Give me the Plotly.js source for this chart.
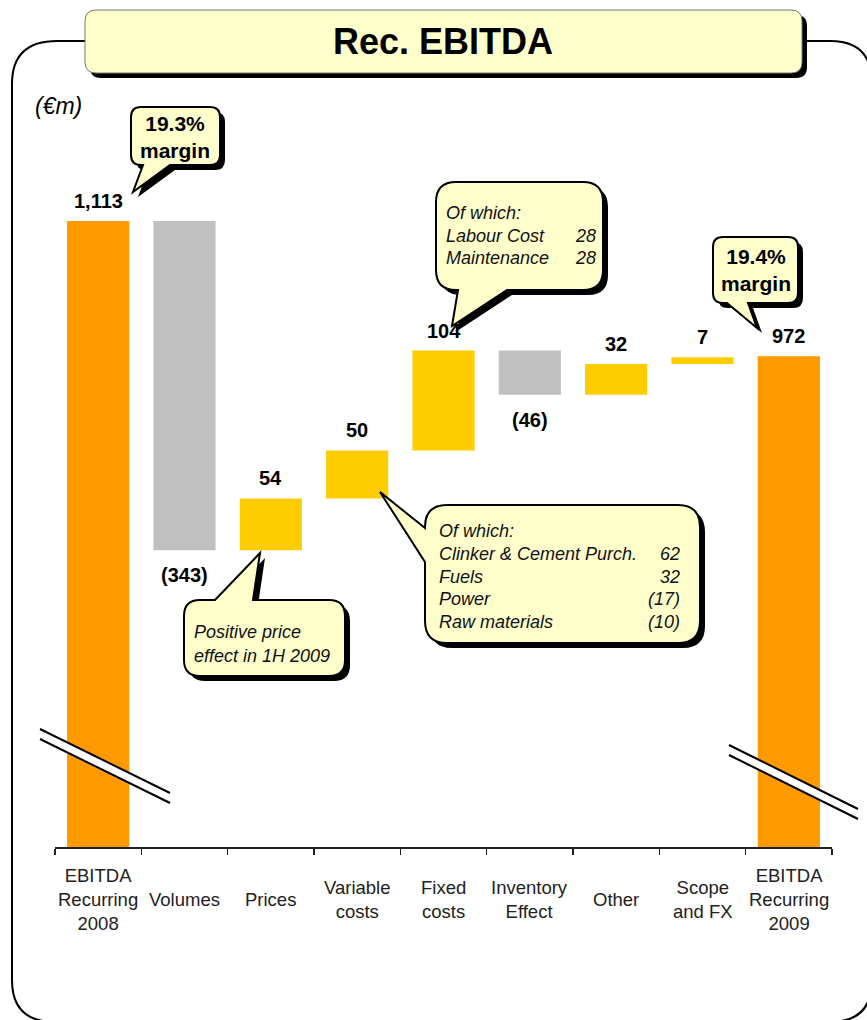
<!DOCTYPE html>
<html><head><meta charset="utf-8">
<script src="https://cdn.plot.ly/plotly-3.0.1.min.js"></script>
<style>html,body{margin:0;padding:0;background:#fff}</style>
</head><body><div id="chart" style="width:867px;height:1020px"></div>
<script>
// ---- data ----
var categories = ["EBITDA<br>Recurring<br>2008","Volumes","Prices","Variable<br>costs","Fixed<br>costs","Inventory<br>Effect","Other","Scope<br>and FX","EBITDA<br>Recurring<br>2009"];
var measures = ["absolute","relative","relative","relative","relative","relative","relative","relative","absolute"];
var values = [1113, -343, 54, 50, 104, -46, 32, 7, 972];
var unitLabel = "(€m)";
var chartTitle = "Rec. EBITDA";
var marginStart = ["19.3%","margin"];
var marginEnd = ["19.4%","margin"];
var fixedDetail = [["Of which:",""],["Labour Cost","28"],["Maintenance","28"]];
var variableDetail = [["Of which:",""],["Clinker & Cement Purch.","62"],["Fuels","32"],["Power","(17)"],["Raw materials","(10)"]];
var priceNote = ["Positive price","effect in 1H 2009"];

// ---- geometry ----
var W=867,H=1020, ML=55, MR=35, MT=100, MB=173;
var PW=W-ML-MR, PH=H-MT-MB;
var Y0=461, Y1=1239;
function X(p){return (p-ML)/PW;}
function Y(p){return (H-MB-p)/PH;}
function pt(x,y){return X(x).toFixed(5)+","+Y(y).toFixed(5);}

function bubblePath(x0,y0,x1,y1,r,tail,dx,dy){
  dx=dx||0; dy=dy||0;
  x0+=dx;x1+=dx;y0+=dy;y1+=dy;
  var t=tail?{edge:tail.edge,a:tail.a+((tail.edge==='left')?dy:dx),b:tail.b+((tail.edge==='left')?dy:dx),tx:tail.tx+dx,ty:tail.ty+dy}:null;
  var s="M"+pt(x0+r,y0);
  if(t&&t.edge==='top'){s+=" L"+pt(t.a,y0)+" L"+pt(t.tx,t.ty)+" L"+pt(t.b,y0);}
  s+=" L"+pt(x1-r,y0)+" Q"+pt(x1,y0)+" "+pt(x1,y0+r);
  s+=" L"+pt(x1,y1-r)+" Q"+pt(x1,y1)+" "+pt(x1-r,y1);
  if(t&&t.edge==='bottom'){s+=" L"+pt(t.b,y1)+" L"+pt(t.tx,t.ty)+" L"+pt(t.a,y1);}
  s+=" L"+pt(x0+r,y1)+" Q"+pt(x0,y1)+" "+pt(x0,y1-r);
  if(t&&t.edge==='left'){s+=" L"+pt(x0,t.b)+" L"+pt(t.tx,t.ty)+" L"+pt(x0,t.a);}
  s+=" L"+pt(x0,y0+r)+" Q"+pt(x0,y0)+" "+pt(x0+r,y0)+" Z";
  return s;
}
var shapes=[];
function bubble(x0,y0,x1,y1,r,tail,lineColor,lw){
  shapes.push({type:'path',xref:'paper',yref:'paper',layer:'above',path:bubblePath(x0,y0,x1,y1,r,tail,5,5),fillcolor:'#000',line:{width:0}});
  shapes.push({type:'path',xref:'paper',yref:'paper',layer:'above',path:bubblePath(x0,y0,x1,y1,r,tail,0,0),fillcolor:'#FFFFCC',line:{color:lineColor||'#000',width:lw||2}});
}
// outer frame
shapes.push({type:'path',xref:'paper',yref:'paper',layer:'above',
  path:"M"+pt(57,41)+" L"+pt(830,41)+" Q"+pt(872,41)+" "+pt(872,83)+" L"+pt(872,980)+" Q"+pt(872,1022)+" "+pt(830,1022)+" L"+pt(55,1022)+" Q"+pt(12,1022)+" "+pt(12,980)+" L"+pt(12,84)+" Q"+pt(12,41)+" "+pt(57,41)+" Z",
  line:{color:'#000',width:2},fillcolor:'rgba(0,0,0,0)'});
// title box
bubble(85,10,802,73,11,null,'#777',1);
// callouts
bubble(131,107,220,165,10,{edge:'bottom',a:143,b:170,tx:133,ty:192});
bubble(713,237,798,303,10,{edge:'bottom',a:727,b:748,tx:757,ty:328});
bubble(436,182,603,290,20,{edge:'bottom',a:458,b:507,tx:452,ty:326});
bubble(425,505,700,643,22,{edge:'left',a:528,b:562,tx:380,ty:492});
bubble(184,600,345,676,16,{edge:'top',a:215,b:253,tx:260,ty:553});
// axis breaks
function brk(xa,ya,xb,yb,gap){
  shapes.push({type:'path',xref:'paper',yref:'paper',layer:'above',path:"M"+pt(xa,ya)+" L"+pt(xb,yb)+" L"+pt(xb,yb+gap)+" L"+pt(xa,ya+gap)+" Z",fillcolor:'#fff',line:{width:0}});
  shapes.push({type:'line',xref:'paper',yref:'paper',layer:'above',x0:X(xa),y0:Y(ya),x1:X(xb),y1:Y(yb),line:{color:'#000',width:2}});
  shapes.push({type:'line',xref:'paper',yref:'paper',layer:'above',x0:X(xa),y0:Y(ya+gap),x1:X(xb),y1:Y(yb+gap),line:{color:'#000',width:2}});
}
brk(40,729,170,793,10);
brk(729,745,858,809,10);

// ---- annotations ----
var F="Arial, 'Liberation Sans', sans-serif";
var ann=[];
function txt(x,y,t,opt){
  opt=opt||{};
  ann.push({xref:'paper',yref:'paper',x:X(x),y:Y(y),text:t,showarrow:false,xanchor:opt.xa||'center',yanchor:opt.ya||'middle',
    font:{family:F,size:opt.size||17,color:opt.color||'#000'}});
}
txt(443,42,"<b>"+chartTitle+"</b>",{size:36});
txt(33,106,"<i>"+unitLabel+"</i>",{xa:'left',size:23});
txt(175,137,"<b>"+marginStart.join("<br>")+"</b>",{size:21});
txt(756,270,"<b>"+marginEnd.join("<br>")+"</b>",{size:21});
function detail(rows,xl,xr,y0,dy,sz){
  rows.forEach(function(r,i){
    txt(xl,y0+i*dy,"<i>"+r[0]+"</i>",{xa:'left',size:sz,color:'#111'});
    if(r[1]) txt(xr,y0+i*dy,"<i>"+r[1]+"</i>",{xa:'right',size:sz,color:'#111'});
  });
}
detail(fixedDetail,444,598,213,22.5,18);
detail(variableDetail,437,682,531,22.8,18);
detail(priceNote.map(function(s){return [s,""];}),192,0,632,24,18);

// value labels & category labels
var cum=0;
function fmt(v){var s=Math.abs(v).toLocaleString('en-US');return v<0?"("+s+")":s;}
values.forEach(function(v,i){
  var top,bottom;
  if(measures[i]==='absolute'){cum=v;top=v;bottom=0;}
  else{var prev=cum;cum+=v;top=Math.max(prev,cum);bottom=Math.min(prev,cum);}
  if(v>=0){
    ann.push({xref:'x',yref:'y',x:categories[i],y:top,yshift:7,yanchor:'bottom',xanchor:'center',showarrow:false,text:"<b>"+fmt(v)+"</b>",font:{family:F,size:20,color:'#000'}});
  } else {
    ann.push({xref:'x',yref:'y',x:categories[i],y:bottom,yshift:-12,yanchor:'top',xanchor:'center',showarrow:false,text:"<b>"+fmt(v)+"</b>",font:{family:F,size:20,color:'#000'}});
  }
  ann.push({xref:'x',yref:'paper',x:categories[i],y:Y(899),yanchor:'middle',xanchor:'center',showarrow:false,text:categories[i],font:{family:F,size:18.5,color:'#222'}});
});

var trace={type:'waterfall',x:categories,y:values,measure:measures,
  increasing:{marker:{color:'#FFCC00'}},decreasing:{marker:{color:'#C0C0C0'}},totals:{marker:{color:'#FF9900'}},
  connector:{visible:false},textinfo:'none',hoverinfo:'skip'};

var layout={width:W,height:H,margin:{l:ML,r:MR,t:MT,b:MB,pad:0},paper_bgcolor:'#fff',plot_bgcolor:'#fff',
  showlegend:false,waterfallgap:0.28,
  xaxis:{type:'category',range:[-0.5,8.5],showline:true,linecolor:'#222',linewidth:1.5,ticks:'outside',tickson:'boundaries',ticklen:6,tickcolor:'#222',tickwidth:1.5,showticklabels:false,showgrid:false,zeroline:false,fixedrange:true},
  yaxis:{range:[Y0,Y1],visible:false,showgrid:false,zeroline:false,fixedrange:true},
  shapes:shapes,annotations:ann};
Plotly.newPlot('chart',[trace],layout,{displayModeBar:false,staticPlot:true});
</script></body></html>
